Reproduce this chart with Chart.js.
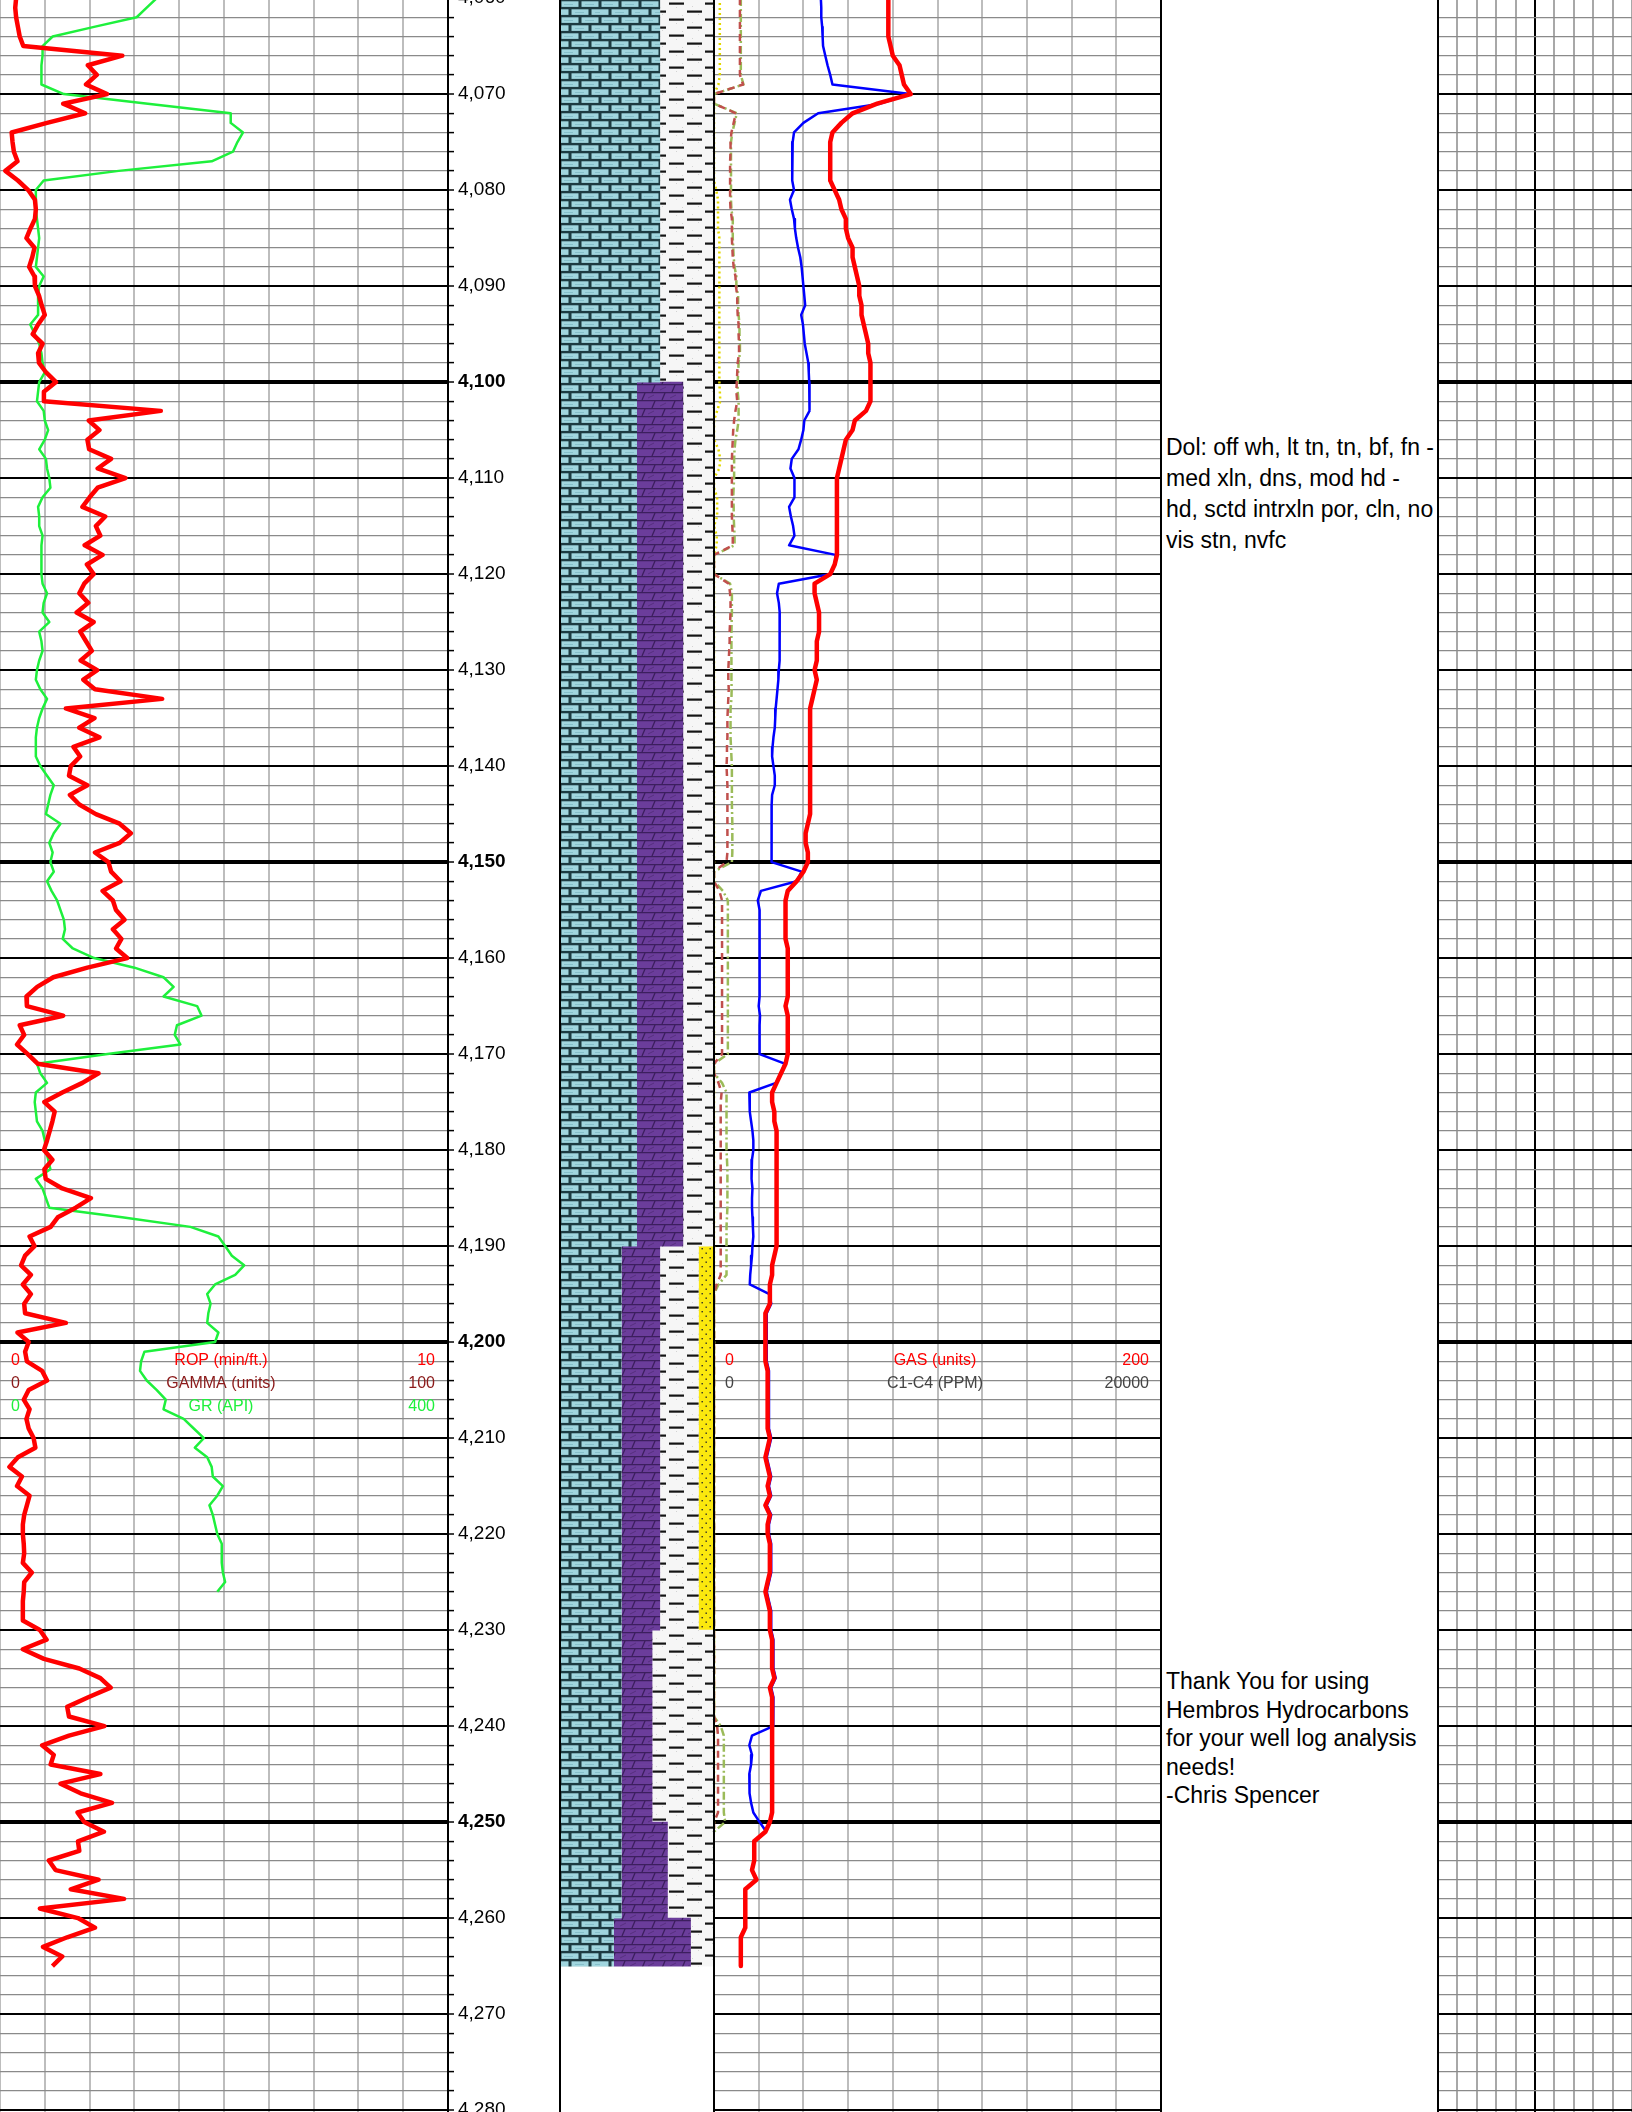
<!DOCTYPE html>
<html>
<head>
<meta charset="utf-8">
<title>Mud log 4060 - 4280</title>
<script src="https://cdn.jsdelivr.net/npm/chart.js@4.4.1/dist/chart.umd.min.js"></script>
<style>
  html, body { margin: 0; padding: 0; background: #fff; overflow: hidden; }
  #log { position: relative; width: 1632px; height: 2112px; }
  #log canvas { position: absolute; top: 0; }
  .edge { position: absolute; top: 0; width: 2px; height: 2112px; background: #000; }
  .notes { position: absolute; left: 1166px; font-family: "Liberation Sans", Arial, sans-serif;
           font-size: 23px; color: #000; white-space: nowrap; }
</style>
</head>
<body>
<div id="log">
  <canvas id="trackMain" width="560" height="2112" style="left:0"></canvas>
  <canvas id="trackLith" width="154" height="2112" style="left:560px"></canvas>
  <canvas id="trackGas" width="447" height="2112" style="left:714px"></canvas>
  <canvas id="trackBlank" width="194" height="2112" style="left:1438px"></canvas>
  <div class="edge" style="left:559px"></div>
  <div class="edge" style="left:713px"></div>
  <div class="edge" style="left:1160px"></div>
  <div class="edge" style="left:1437px"></div>
  <div class="notes" style="top:432px; line-height:31px">Dol: off wh, lt tn, tn, bf, fn -<br>med xln, dns, mod hd -<br>hd, sctd intrxln por, cln, no<br>vis stn, nvfc</div>
  <div class="notes" style="top:1667px; line-height:28.6px">Thank You for using<br>Hembros Hydrocarbons<br>for your well log analysis<br>needs!<br>-Chris Spencer</div>
</div>
<script>
// depth window shown on the page
const depthMin = 4060.2;
const depthMax = 4280.2;
const depthMajor = [4060, 4070, 4080, 4090, 4100, 4110, 4120, 4130, 4140, 4150, 4160, 4170,
                    4180, 4190, 4200, 4210, 4220, 4230, 4240, 4250, 4260, 4270, 4280];
const depthBold = [4100, 4150, 4200, 4250];
const depthMinorStep = 2;

// track 1 curves, one value per foot
const ropStart = 4060;   // ROP (min/ft.) 0 - 10
const ropValues = [
  0.36, 0.34, 0.36, 0.40, 0.44, 0.52, 2.73, 1.96, 2.16, 1.92,
  2.39, 1.41, 1.90, 1.05, 0.26, 0.28, 0.31, 0.39, 0.12, 0.40,
  0.63, 0.78, 0.80, 0.78, 0.68, 0.59, 0.77, 0.72, 0.65, 0.77,
  0.78, 0.87, 0.93, 1.00, 0.85, 0.73, 0.95, 0.85, 0.87, 1.03,
  1.25, 0.98, 0.98, 3.59, 1.98, 2.22, 1.95, 1.99, 2.48, 2.18,
  2.80, 2.18, 2.00, 1.84, 2.35, 2.14, 2.24, 1.89, 2.29, 1.94,
  2.09, 1.88, 1.77, 1.97, 1.71, 2.09, 1.79, 1.92, 2.05, 1.80,
  2.17, 1.86, 2.12, 3.62, 1.47, 2.11, 1.77, 2.22, 1.64, 1.79,
  1.58, 1.54, 1.95, 1.56, 1.77, 2.14, 2.67, 2.92, 2.67, 2.12,
  2.42, 2.48, 2.69, 2.29, 2.52, 2.59, 2.78, 2.52, 2.71, 2.59,
  2.84, 1.95, 1.19, 0.83, 0.59, 0.60, 1.41, 0.44, 0.54, 0.38,
  0.62, 0.84, 2.20, 1.84, 1.39, 0.99, 1.22, 1.17, 1.11, 1.05,
  0.98, 1.17, 0.99, 1.02, 1.39, 2.03, 1.69, 1.29, 1.13, 0.66,
  0.77, 0.56, 0.47, 0.69, 0.51, 0.69, 0.54, 0.56, 1.47, 0.39,
  0.64, 0.56, 0.60, 0.94, 1.05, 0.64, 0.53, 0.66, 0.59, 0.64,
  0.75, 0.79, 0.40, 0.21, 0.49, 0.38, 0.66, 0.60, 0.54, 0.51,
  0.51, 0.53, 0.54, 0.51, 0.71, 0.54, 0.53, 0.51, 0.51, 0.51,
  0.89, 1.04, 0.51, 0.98, 1.77, 2.24, 2.47, 1.97, 1.50, 1.54,
  2.33, 1.54, 0.94, 1.20, 1.13, 2.24, 1.35, 1.80, 2.50, 1.73,
  1.88, 2.32, 1.74, 1.77, 1.09, 1.24, 2.20, 1.58, 2.77, 0.89,
  1.74, 2.12, 1.50, 0.96, 1.39, 1.17
];
const grStart = 4060;    // GR (API) 0 - 400
const grValues = [
  140, 131, 122, 84, 47, 38, 38, 37, 37, 37,
  57, 132, 206, 206, 217, 212, 208, 189, 106, 39,
  32, 32, 32, 33, 34, 35, 34, 33, 32, 39,
  35, 34, 34, 34, 27, 31, 35, 37, 38, 40,
  35, 34, 33, 39, 40, 43, 40, 35, 41, 42,
  44, 45, 38, 34, 35, 35, 38, 37, 37, 37,
  37, 38, 42, 39, 38, 44, 35, 37, 38, 35,
  33, 32, 36, 42, 38, 35, 33, 32, 32, 32,
  36, 42, 48, 45, 43, 41, 54, 48, 44, 47,
  45, 48, 42, 46, 51, 54, 57, 58, 56, 65,
  84, 120, 146, 155, 146, 176, 180, 158, 156, 161,
  96, 33, 36, 42, 32, 31, 32, 33, 38, 40,
  41, 43, 45, 32, 38, 41, 44, 109, 170, 195,
  201, 207, 218, 210, 192, 185, 188, 186, 185, 195,
  192, 129, 126, 125, 131, 140, 148, 146, 164, 173,
  182, 174, 185, 189, 190, 199, 194, 187, 190, 192,
  194, 198, 198, 198, 199, 201, 194
];

// track 3 curves
const gasStart = 4060;   // GAS (units) 0 - 200
const gasValues = [
  78, 78, 78, 78, 78, 79, 80, 83, 84, 85,
  88, 73, 62, 57, 53, 52, 52, 52, 52, 52,
  54, 56, 57, 59, 59, 60, 62, 62, 63, 64,
  65, 65, 66, 66, 67, 68, 69, 69, 70, 70,
  70, 70, 70, 68, 63, 62, 59, 58, 57, 56,
  55, 55, 55, 55, 55, 55, 55, 55, 55, 54,
  52, 45, 45, 46, 47, 47, 47, 46, 46, 46,
  45, 46, 45, 44, 43, 43, 43, 43, 43, 43,
  43, 43, 43, 43, 43, 43, 42, 41, 41, 42,
  42, 40, 37, 33, 32, 32, 32, 32, 32, 33,
  33, 33, 33, 33, 33, 32, 33, 33, 33, 33,
  33, 32, 30, 28, 26, 26, 27, 27, 28, 28,
  28, 28, 28, 28, 28, 28, 28, 28, 28, 28,
  28, 27, 26, 26, 25, 25, 25, 23, 23, 23,
  23, 23, 23, 24, 24, 24, 24, 24, 24, 24,
  25, 24, 23, 24, 25, 24, 25, 23, 25, 24,
  24, 25, 25, 25, 25, 24, 23, 24, 25, 25,
  25, 26, 26, 26, 26, 27, 25, 26, 26, 26,
  26, 26, 26, 26, 26, 26, 26, 26, 26, 26,
  25, 23, 18, 18, 18, 17, 19, 14, 14, 14,
  14, 14, 12, 12, 12, 12
];
const ppmStart = 4060;   // C1-C4 (PPM) 0 - 20000
const c1Values = [
  4780, 4800, 4800, 4840, 4860, 4880, 4980, 5080, 5200, 5300,
  8780, 7440, 4660, 4000, 3580, 3520, 3500, 3500, 3500, 3500,
  3580, 3400, 3480, 3580, 3620, 3680, 3760, 3860, 3920, 3960,
  4000, 4040, 4080, 3900, 3980, 4020, 4060, 4140, 4220, 4240,
  4260, 4260, 4280, 4280, 4040, 4000, 3900, 3780, 3480, 3420,
  3600, 3600, 3600, 3360, 3440, 3540, 3600, 3360, 5440, 5400,
  5240, 2900, 2820, 2900, 2940, 2940, 2940, 2940, 2940, 2920,
  2900, 2880, 2840, 2800, 2760, 2740, 2720, 2660, 2620, 2600,
  2660, 2720, 2720, 2600, 2580, 2580, 2580, 2580, 2580, 2580,
  2560, 3920, 3700, 2100, 1960, 2040, 2040, 2040, 2040, 2040,
  2040, 2040, 2040, 2040, 2040, 2000, 2060, 2040, 2040, 2040,
  2040, 3160, 3000, 2780, 1580, 1600, 1600, 1660, 1720, 1760,
  1760, 1700, 1660, 1700, 1720, 1700, 1700, 1720, 1740, 1760,
  1720, 1700, 1660, 1620, 1600, 2480, 2560, 2360, 2360, 2360,
  2360, 2360, 2360, 2460, 2460, 2460, 2460, 2460, 2460, 2460,
  2560, 2460, 2360, 2460, 2560, 2460, 2560, 2360, 2560, 2460,
  2460, 2560, 2560, 2560, 2560, 2460, 2360, 2460, 2560, 2560,
  2560, 2660, 2660, 2660, 2660, 2760, 2560, 2660, 2660, 2660,
  2640, 1700, 1580, 1700, 1660, 1580, 1580, 1600, 1660, 1760,
  2040, 2340
];
const c2Values = [
  1160, 1160, 1160, 1160, 1160, 1160, 1160, 1160, 1160, 1300,
  0, 0, 980, 880, 780, 740, 740, 720, 720, 720,
  720, 720, 740, 800, 800, 800, 820, 840, 880, 960,
  980, 1040, 1040, 1060, 1100, 1100, 1120, 1120, 1060, 1040,
  1020, 1000, 1040, 960, 900, 860, 840, 820, 800, 800,
  800, 800, 800, 800, 800, 820, 840, 840, 0, 0,
  0, 660, 720, 740, 740, 720, 700, 700, 680, 660,
  640, 640, 660, 640, 620, 600, 600, 600, 580, 580,
  560, 580, 600, 600, 600, 600, 600, 600, 600, 600,
  560, 0, 0, 240, 360, 360, 360, 360, 360, 360,
  360, 360, 360, 360, 360, 360, 360, 360, 360, 360,
  360, 0, 0, 200, 340, 300, 300, 300, 300, 300,
  300, 300, 300, 300, 300, 300, 300, 300, 300, 300,
  300, 300, 300, 300, 120, 0, 0, 0, 0, 0,
  0, 0, 0, 0, 0, 0, 0, 0, 0, 0,
  0, 0, 0, 0, 0, 0, 0, 0, 0, 0,
  0, 0, 0, 0, 0, 0, 0, 0, 0, 0,
  0, 0, 0, 0, 0, 0, 0, 0, 0, 0,
  140, 180, 180, 180, 180, 180, 180, 180, 180, 180,
  0, 0
];
const c3Values = [
  1200, 1200, 1200, 1200, 1200, 1200, 1200, 1200, 1200, 1320,
  0, 0, 1020, 920, 820, 760, 760, 760, 760, 760,
  760, 760, 780, 840, 840, 840, 860, 880, 920, 1000,
  1000, 1080, 1080, 1100, 1140, 1140, 1160, 1160, 1100, 1080,
  1060, 1060, 1100, 1100, 1100, 1040, 960, 920, 900, 900,
  900, 880, 860, 880, 880, 900, 920, 920, 0, 0,
  0, 720, 800, 800, 800, 790, 780, 780, 780, 780,
  780, 780, 790, 780, 740, 740, 740, 740, 760, 780,
  800, 800, 800, 800, 800, 810, 820, 820, 820, 820,
  800, 0, 0, 400, 620, 620, 620, 620, 620, 620,
  620, 620, 620, 620, 620, 620, 620, 620, 620, 620,
  620, 0, 0, 360, 560, 560, 560, 560, 560, 560,
  560, 580, 600, 600, 600, 600, 600, 580, 560, 560,
  560, 560, 560, 560, 200, 0, 0, 0, 0, 0,
  0, 0, 0, 0, 0, 0, 0, 0, 0, 0,
  0, 0, 0, 0, 0, 0, 0, 0, 0, 0,
  0, 0, 0, 0, 0, 0, 0, 0, 0, 0,
  0, 0, 0, 0, 0, 0, 0, 0, 0, 0,
  300, 440, 440, 440, 440, 440, 440, 440, 440, 440,
  500, 0
];
const c4Values = [
  260, 260, 260, 260, 260, 260, 260, 260, 260, 200,
  0, 0, 0, 0, 0, 0, 0, 0, 0, 0,
  100, 180, 180, 180, 180, 240, 240, 240, 240, 240,
  240, 240, 240, 240, 240, 240, 240, 240, 240, 240,
  240, 260, 280, 140, 0, 0, 0, 200, 280, 240,
  0, 0, 140, 140, 140, 0, 120, 120, 0, 0,
  0, 0, 0, 0, 0, 0, 0, 0, 0, 0,
  0, 0, 0, 0, 0, 0, 0, 0, 0, 0,
  0, 0, 0, 0, 0, 0, 0, 0, 0, 0,
  0, 0, 0, 0, 0, 0, 0, 0, 0, 0,
  0, 0, 0, 0, 0, 0, 0, 0, 0, 0,
  0, 0, 0, 0, 0, 0, 0, 0, 0, 0,
  0, 0, 0, 0, 0, 0, 0, 0, 0, 0,
  0, 0, 0, 0, 0, 0, 0, 0, 0, 0,
  0, 0, 0, 0, 0, 0, 0, 0, 0, 0,
  0, 0, 0, 0, 0, 0, 0, 0, 0, 0,
  0, 0, 0, 0, 0, 0, 0, 0, 0, 0,
  0, 0, 0, 0, 0, 0, 0, 0, 0, 0,
  0, 0, 0, 0, 0, 0, 0, 0, 0, 0,
  0, 0
];

// lithology, percent of the column per interval
const lithTop   = [4059, 4100, 4190, 4230, 4250, 4260];
const lithBase  = [4100, 4190, 4230, 4250, 4260, 4265];
const limestone = [65, 50, 40, 40, 40, 35];
const dolomite  = [0, 30, 25, 20, 30, 50];
const shale     = [35, 20, 25, 40, 30, 15];
const sandstone = [0, 0, 10, 0, 0, 0];

// scale ranges used by the curves and the in-track legends
const ropMax = 10, gammaMax = 100, grMax = 400, gasMax = 200, ppmMax = 20000;

Chart.defaults.font.family = '"Liberation Sans", Arial, sans-serif';

const FONT = '"Liberation Sans", Arial, sans-serif';
const depthTicks = [];
depthMajor.forEach(function(d, i) {
    if (i === depthMajor.length - 1) { depthTicks.push(d); return; }
    for (let v = d; v < depthMajor[i + 1]; v += depthMinorStep) depthTicks.push(v);
});

function curve(start, values) {
    return values.map((v, i) => ({ x: v, y: start + i }));
}

function hLineColor(v) { return depthMajor.includes(v) ? '#000' : '#8a8a8a'; }
function hLineWidth(v) {
    if (depthBold.includes(v)) return 4;
    return depthMajor.includes(v) ? 2 : 1.2;
}

function depthAxis(showLabels, showGrid) {
    return {
        type: 'linear',
        position: showLabels ? 'right' : 'left',
        reverse: true,
        min: depthMin,
        max: depthMax,
        display: true,
        afterBuildTicks: function(axis) { axis.ticks = depthTicks.map(v => ({ value: v })); },
        afterFit: function(axis) {
            axis.width = showLabels ? 112 : 0;
            axis.paddingTop = 0;
            axis.paddingBottom = 0;
        },
        ticks: {
            display: showLabels,
            autoSkip: false,
            padding: 4,
            color: '#000',
            font: function(c) {
                const bold = c.tick && depthBold.includes(c.tick.value);
                return { size: 19, family: FONT, weight: bold ? 'bold' : 'normal' };
            },
            callback: v => depthMajor.includes(v) ? v.toLocaleString('en-US') : ''
        },
        grid: {
            display: showGrid,
            drawTicks: showLabels,
            tickLength: 6,
            tickWidth: 1.5,
            tickColor: '#000',
            color: c => hLineColor(c.tick.value),
            lineWidth: c => hLineWidth(c.tick.value)
        },
        border: { display: showLabels, color: '#000', width: 2 }
    };
}

function valueAxis(max, step, colorFn) {
    return {
        type: 'linear',
        position: 'top',
        min: 0,
        max: max,
        ticks: { display: false, stepSize: step },
        grid: { drawTicks: false, color: colorFn || '#bdbdbd', lineWidth: 2 },
        border: { display: false }
    };
}

// 0 / label / max rows printed inside a track
function legendRows(rows) {
    return {
        id: 'legendRows',
        afterDatasetsDraw(chart) {
            const ctx = chart.ctx;
            const area = chart.chartArea;
            const y = chart.scales.y;
            ctx.save();
            ctx.font = '16px ' + FONT;
            ctx.textBaseline = 'middle';
            rows.forEach(function(r) {
                const py = y.getPixelForValue(r.depth);
                ctx.fillStyle = r.color;
                ctx.textAlign = 'left';
                ctx.fillText(r.min, area.left + 11, py);
                ctx.textAlign = 'center';
                ctx.fillText(r.label, area.left + 221, py);
                ctx.textAlign = 'right';
                ctx.fillText(r.max, area.left + 435, py);
            });
            ctx.restore();
        }
    };
}

const baseOptions = {
    responsive: false,
    animation: false,
    devicePixelRatio: 1,
    events: [],
    layout: { padding: 0 },
    plugins: { legend: { display: false }, tooltip: { enabled: false } },
    elements: { point: { radius: 0 }, line: { tension: 0, borderJoinStyle: 'round' } }
};

// Track 1: ROP + GR with the depth scale
new Chart(document.getElementById('trackMain'), {
    type: 'line',
    data: {
        datasets: [
            { label: 'ROP (min/ft.)', data: curve(ropStart, ropValues), xAxisID: 'x',
              borderColor: '#ff0000', borderWidth: 4.5 },
            { label: 'GR (API)', data: curve(grStart, grValues), xAxisID: 'xGr',
              borderColor: '#1ef03c', borderWidth: 2.5 }
        ]
    },
    options: Object.assign({}, baseOptions, {
        indexAxis: 'y',
        scales: {
            x: valueAxis(ropMax, 1),
            xGr: { type: 'linear', min: 0, max: grMax, display: false },
            y: depthAxis(true, true)
        }
    }),
    plugins: [legendRows([
        { depth: 4201.9, color: '#ff0000', min: '0', label: 'ROP (min/ft.)', max: String(ropMax) },
        { depth: 4204.3, color: '#8b1a1a', min: '0', label: 'GAMMA (units)', max: String(gammaMax) },
        { depth: 4206.7, color: '#1ef03c', min: '0', label: 'GR (API)', max: String(grMax) }
    ])]
});

// Track 2: lithology column as stacked per-foot bars with rock patterns
const lithCtx = document.getElementById('trackLith').getContext('2d');
function tile(w, h, draw) {
    const c = document.createElement('canvas');
    c.width = w; c.height = h;
    draw(c.getContext('2d'));
    return lithCtx.createPattern(c, 'repeat');
}
const limePattern = tile(40, 16, function(g) {
    g.fillStyle = '#1d3a41'; g.fillRect(0, 0, 40, 16);
    g.fillStyle = '#a0d5de';
    [[1.5, 1.3], [21.5, 1.3], [-8.5, 9.3], [11.5, 9.3], [31.5, 9.3]].forEach(function(b) {
        g.fillRect(b[0], b[1], 17, 5.6);
    });
    g.fillStyle = '#86bfca';
    [[4, 4], [25, 4], [15, 12], [35, 12]].forEach(function(b) { g.fillRect(b[0], b[1], 9, 1); });
});
const dolPattern = tile(40, 16, function(g) {
    g.fillStyle = '#6b3d9b'; g.fillRect(0, 0, 40, 16);
    g.strokeStyle = '#3c1f5e'; g.lineWidth = 1.3;
    g.beginPath();
    g.moveTo(0, 0.6); g.lineTo(40, 0.6);
    g.moveTo(0, 8.6); g.lineTo(40, 8.6);
    g.moveTo(12, 8); g.lineTo(15, 1);
    g.moveTo(32, 8); g.lineTo(35, 1);
    g.moveTo(2, 16); g.lineTo(5, 9);
    g.moveTo(22, 16); g.lineTo(25, 9);
    g.stroke();
    g.strokeStyle = '#57307f'; g.lineWidth = 1;
    g.beginPath();
    g.moveTo(20, 6); g.lineTo(26, 3);
    g.moveTo(8, 14); g.lineTo(14, 11);
    g.moveTo(30, 14); g.lineTo(36, 11);
    g.stroke();
});
const shalePattern = tile(36, 16, function(g) {
    g.fillStyle = '#f6f6f6'; g.fillRect(0, 0, 36, 16);
    g.fillStyle = '#d4d4d4';
    [[24, 6], [30, 14], [8, 7], [14, 15]].forEach(function(p) { g.fillRect(p[0], p[1], 1, 1); });
    g.fillStyle = '#141414';
    g.fillRect(1, 2.5, 15, 2.2);
    g.fillRect(19, 10.5, 15, 2.2);
});
const sandPattern = tile(8, 9, function(g) {
    g.fillStyle = '#fbe80e'; g.fillRect(0, 0, 8, 9);
    g.fillStyle = '#2a2a2a';
    g.fillRect(1.5, 1.5, 1.4, 1.4);
    g.fillRect(5.5, 6, 1.4, 1.4);
});

function lithSeries(pcts) {
    const pts = [];
    lithTop.forEach(function(top, k) {
        for (let d = top; d < lithBase[k]; d++) pts.push({ x: pcts[k], y: d + 0.5 });
    });
    return pts;
}
function lithDataset(label, pcts, pattern) {
    return { label: label, data: lithSeries(pcts), backgroundColor: pattern, borderWidth: 0,
             barPercentage: 1.08, categoryPercentage: 1 };
}

new Chart(lithCtx, {
    type: 'bar',
    data: {
        datasets: [
            lithDataset('Limestone', limestone, limePattern),
            lithDataset('Dolomite', dolomite, dolPattern),
            lithDataset('Shale', shale, shalePattern),
            lithDataset('Sandstone', sandstone, sandPattern)
        ]
    },
    options: Object.assign({}, baseOptions, {
        indexAxis: 'y',
        scales: {
            x: { type: 'linear', stacked: true, min: 0, max: 100, display: false },
            y: { type: 'linear', stacked: true, reverse: true, min: depthMin, max: depthMax,
                 offset: false, display: false }
        }
    })
});

// Track 3: gas curves
new Chart(document.getElementById('trackGas'), {
    type: 'line',
    data: {
        datasets: [
            { label: 'GAS (units)', data: curve(gasStart, gasValues), xAxisID: 'x',
              borderColor: '#ff0000', borderWidth: 4.5 },
            { label: 'C1', data: curve(ppmStart, c1Values), xAxisID: 'xPpm',
              borderColor: '#0000ff', borderWidth: 2.5 },
            { label: 'C2', data: curve(ppmStart, c2Values), xAxisID: 'xPpm',
              borderColor: '#c0504d', borderWidth: 2.5, borderDash: [7, 5] },
            { label: 'C3', data: curve(ppmStart, c3Values), xAxisID: 'xPpm',
              borderColor: '#9bbb59', borderWidth: 2.5, borderDash: [8, 3, 2, 3] },
            { label: 'C4', data: curve(ppmStart, c4Values), xAxisID: 'xPpm',
              borderColor: '#e2d800', borderWidth: 2.5, borderDash: [2, 3] }
        ]
    },
    options: Object.assign({}, baseOptions, {
        indexAxis: 'y',
        scales: {
            x: valueAxis(gasMax, 20),
            xPpm: { type: 'linear', min: 0, max: ppmMax, display: false },
            y: depthAxis(false, true)
        }
    }),
    plugins: [legendRows([
        { depth: 4201.9, color: '#ff0000', min: '0', label: 'GAS (units)', max: String(gasMax) },
        { depth: 4204.3, color: '#444444', min: '0', label: 'C1-C4 (PPM)', max: String(ppmMax) }
    ])]
});

// Track 5: empty gridded track
new Chart(document.getElementById('trackBlank'), {
    type: 'line',
    data: { datasets: [] },
    options: Object.assign({}, baseOptions, {
        scales: {
            x: valueAxis(10, 1, c => c.tick.value === 5 ? '#000' : '#a8a8a8'),
            y: depthAxis(false, true)
        }
    })
});
</script>
</body>
</html>
